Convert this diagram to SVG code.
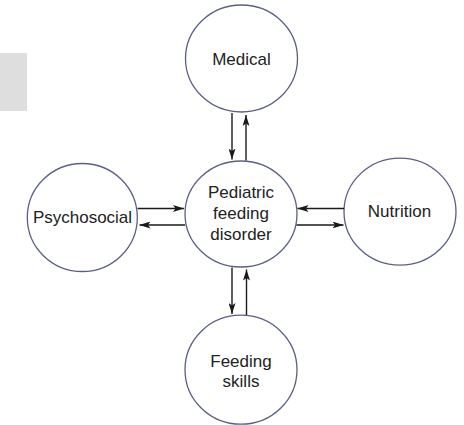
<svg xmlns="http://www.w3.org/2000/svg" width="464" height="425" viewBox="0 0 464 425">
<style>
.node ellipse{fill:#ffffff;stroke:#5b5f86;stroke-width:1.3}
.node text{font-family:"Liberation Sans",Arial,sans-serif;font-size:17px;fill:#222222;text-anchor:middle}
#connectors line{stroke:#1a1a1a;stroke-width:1.4;marker-end:url(#arrow)}
</style>
<defs>
<marker id="arrow" viewBox="0 0 11 7" refX="11" refY="3.5" markerWidth="11" markerHeight="7" markerUnits="userSpaceOnUse" orient="auto">
<path d="M0,0 L11,3.5 L0,7 L2.5,3.5 Z" fill="#1a1a1a"/>
</marker>
</defs>
<rect x="0" y="53" width="27" height="58" fill="#dedede"/>
<g id="medical" class="node">
<ellipse cx="241.5" cy="58.5" rx="56" ry="53.5"/>
<text x="241.5" y="65">Medical</text>
</g>
<g id="pediatric-feeding-disorder" class="node">
<ellipse cx="241" cy="214" rx="56" ry="53"/>
<text x="241" y="198">Pediatric</text>
<text x="241" y="219">feeding</text>
<text x="241" y="240">disorder</text>
</g>
<g id="psychosocial" class="node">
<ellipse cx="82.3" cy="217.5" rx="55" ry="54"/>
<text x="82.5" y="223">Psychosocial</text>
</g>
<g id="nutrition" class="node">
<ellipse cx="400" cy="211.7" rx="56" ry="53.5"/>
<text x="399.5" y="216.5">Nutrition</text>
</g>
<g id="feeding-skills" class="node">
<ellipse cx="241" cy="369.7" rx="56" ry="54.5"/>
<text x="241" y="366.5">Feeding</text>
<text x="241" y="387">skills</text>
</g>
<g id="connectors">
<line x1="232" y1="113" x2="232" y2="159.5"/>
<line x1="246" y1="160.5" x2="246" y2="115"/>
<line x1="137.5" y1="208.5" x2="184" y2="208.5"/>
<line x1="185" y1="225" x2="139.5" y2="225"/>
<line x1="344" y1="208.5" x2="297.5" y2="208.5"/>
<line x1="296.5" y1="225" x2="343.5" y2="225"/>
<line x1="232" y1="267.5" x2="232" y2="314"/>
<line x1="246.5" y1="315" x2="246.5" y2="269.5"/>
</g>
</svg>
